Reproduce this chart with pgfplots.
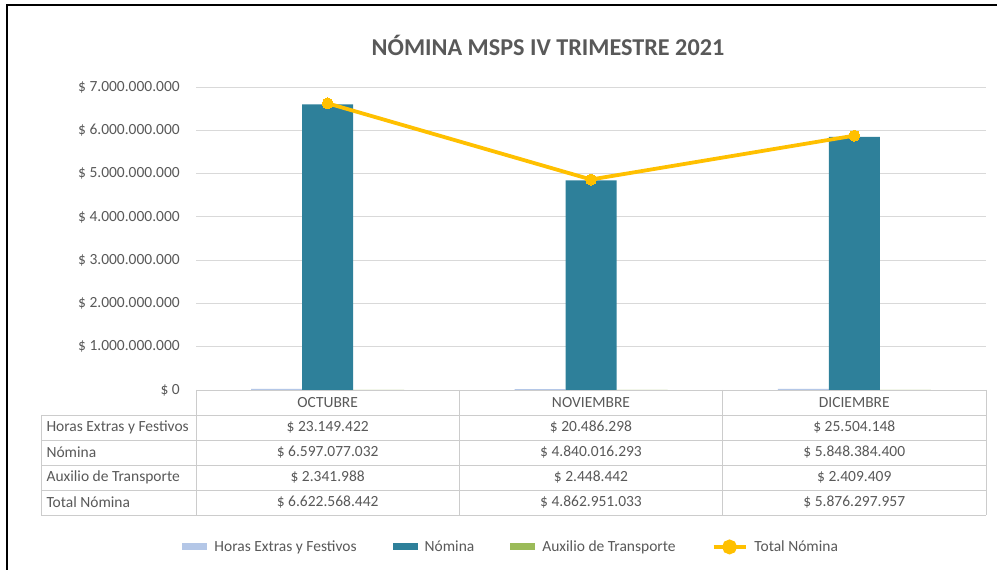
\documentclass[border=0pt]{standalone}
\usepackage{fontspec}
\setmainfont{Carlito}
\usepackage{pgfplots}
\usepackage{pgfplotstable}
\pgfplotsset{compat=1.18}

\definecolor{txt}{HTML}{595959}
\definecolor{gridc}{HTML}{D9D9D9}
\definecolor{tblc}{HTML}{CCCCCC}
\definecolor{horas}{HTML}{B4C7E7}
\definecolor{nomina}{HTML}{2E809A}
\definecolor{auxilio}{HTML}{9BBB59}
\definecolor{total}{HTML}{FFC000}

% valores por mes (0 = octubre, 1 = noviembre, 2 = diciembre)
\pgfplotstableread{
x horas    nomina     auxilio total
0 23149422 6597077032 2341988 6622568442
1 20486298 4840016293 2448442 4862951033
2 25504148 5848384400 2409409 5876297957
}\datos

\newcommand{\tf}{\fontsize{15.5}{18}\selectfont}

\begin{document}
\begin{tikzpicture}[x=1pt,y=1pt]
\useasboundingbox[fill=white] (0,0) rectangle (997,570);
\draw[black, line width=1.2pt] (7,0) -- (7,565) -- (997,565);

\node[font=\fontsize{24.2}{29}\selectfont\bfseries, text=txt] at (548,525) {NÓMINA MSPS IV TRIMESTRE 2021};

\begin{axis}[
    at={(196pt,180pt)}, anchor=south west,
    scale only axis, width=790pt, height=303pt,
    xmin=-0.5, xmax=2.5, ymin=0, ymax=7e9,
    xtick=\empty,
    ytick={0,1e9,2e9,3e9,4e9,5e9,6e9,7e9},
    yticklabels={\$ 0,\$ 1.000.000.000,\$ 2.000.000.000,\$ 3.000.000.000,\$ 4.000.000.000,\$ 5.000.000.000,\$ 6.000.000.000,\$ 7.000.000.000},
    scaled y ticks=false,
    ymajorgrids, grid style={gridc, line width=0.9pt},
    axis line style={draw=none},
    major tick length=0pt,
    yticklabel style={font=\tf, text=txt, inner sep=0pt, xshift=-16pt},
    clip=false,
    legend columns=4,
    legend style={at={(0.399,-0.518)}, anchor=center, draw=none, fill=none,
        font=\tf, text=txt,
        /tikz/every odd column/.append style={column sep=5pt},
        /tikz/every even column/.append style={column sep=34pt}},
]
\addplot[ybar, bar width=51pt, bar shift=-51pt, fill=horas, draw=none,
    legend image code/.code={\fill[horas] (0pt,-3.5pt) rectangle (25pt,3.5pt);}]
    table[x=x, y=horas]{\datos};
\addlegendentry{Horas Extras y Festivos}
\addplot[ybar, bar width=51pt, bar shift=0pt, fill=nomina, draw=none,
    legend image code/.code={\fill[nomina] (0pt,-3.5pt) rectangle (25pt,3.5pt);}]
    table[x=x, y=nomina]{\datos};
\addlegendentry{Nómina}
\addplot[ybar, bar width=51pt, bar shift=51pt, fill=auxilio, draw=none,
    legend image code/.code={\fill[auxilio] (0pt,-3.5pt) rectangle (25pt,3.5pt);}]
    table[x=x, y=auxilio]{\datos};
\addlegendentry{Auxilio de Transporte}
\addplot[total, line width=3.8pt, mark=*, mark size=5.5pt,
    mark options={fill=total, draw=total, line width=0pt},
    legend image code/.code={\draw[total, line width=3.8pt] (0pt,0pt) -- (32pt,0pt);
        \fill[total] (16pt,0pt) circle (5.5pt);}]
    table[x=x, y=total]{\datos};
\addlegendentry{Total Nómina}
\end{axis}

% tabla de datos bajo el eje
\begin{scope}[tblc, line width=0.9pt]
\draw (196,180) -- (986,180);
\foreach \y in {155,130,105,80,55} \draw (41,\y) -- (986,\y);
\draw (41,155) -- (41,55);
\foreach \x in {196,459.3,722.7,986} \draw (\x,180) -- (\x,55);
\end{scope}

\begin{scope}[font=\tf, text=txt]
\node at (327.7,167.5) {OCTUBRE};
\node at (591,167.5) {NOVIEMBRE};
\node at (854.3,167.5) {DICIEMBRE};
\node[anchor=west] at (43,142.5) {Horas Extras y Festivos};
\node[anchor=west] at (43,117.5) {Nómina};
\node[anchor=west] at (43,92.5) {Auxilio de Transporte};
\node[anchor=west] at (43,67.5) {Total Nómina};
\node at (327.7,142.5) {\$ 23.149.422};
\node at (591,142.5) {\$ 20.486.298};
\node at (854.3,142.5) {\$ 25.504.148};
\node at (327.7,117.5) {\$ 6.597.077.032};
\node at (591,117.5) {\$ 4.840.016.293};
\node at (854.3,117.5) {\$ 5.848.384.400};
\node at (327.7,92.5) {\$ 2.341.988};
\node at (591,92.5) {\$ 2.448.442};
\node at (854.3,92.5) {\$ 2.409.409};
\node at (327.7,67.5) {\$ 6.622.568.442};
\node at (591,67.5) {\$ 4.862.951.033};
\node at (854.3,67.5) {\$ 5.876.297.957};
\end{scope}
\end{tikzpicture}
\end{document}
